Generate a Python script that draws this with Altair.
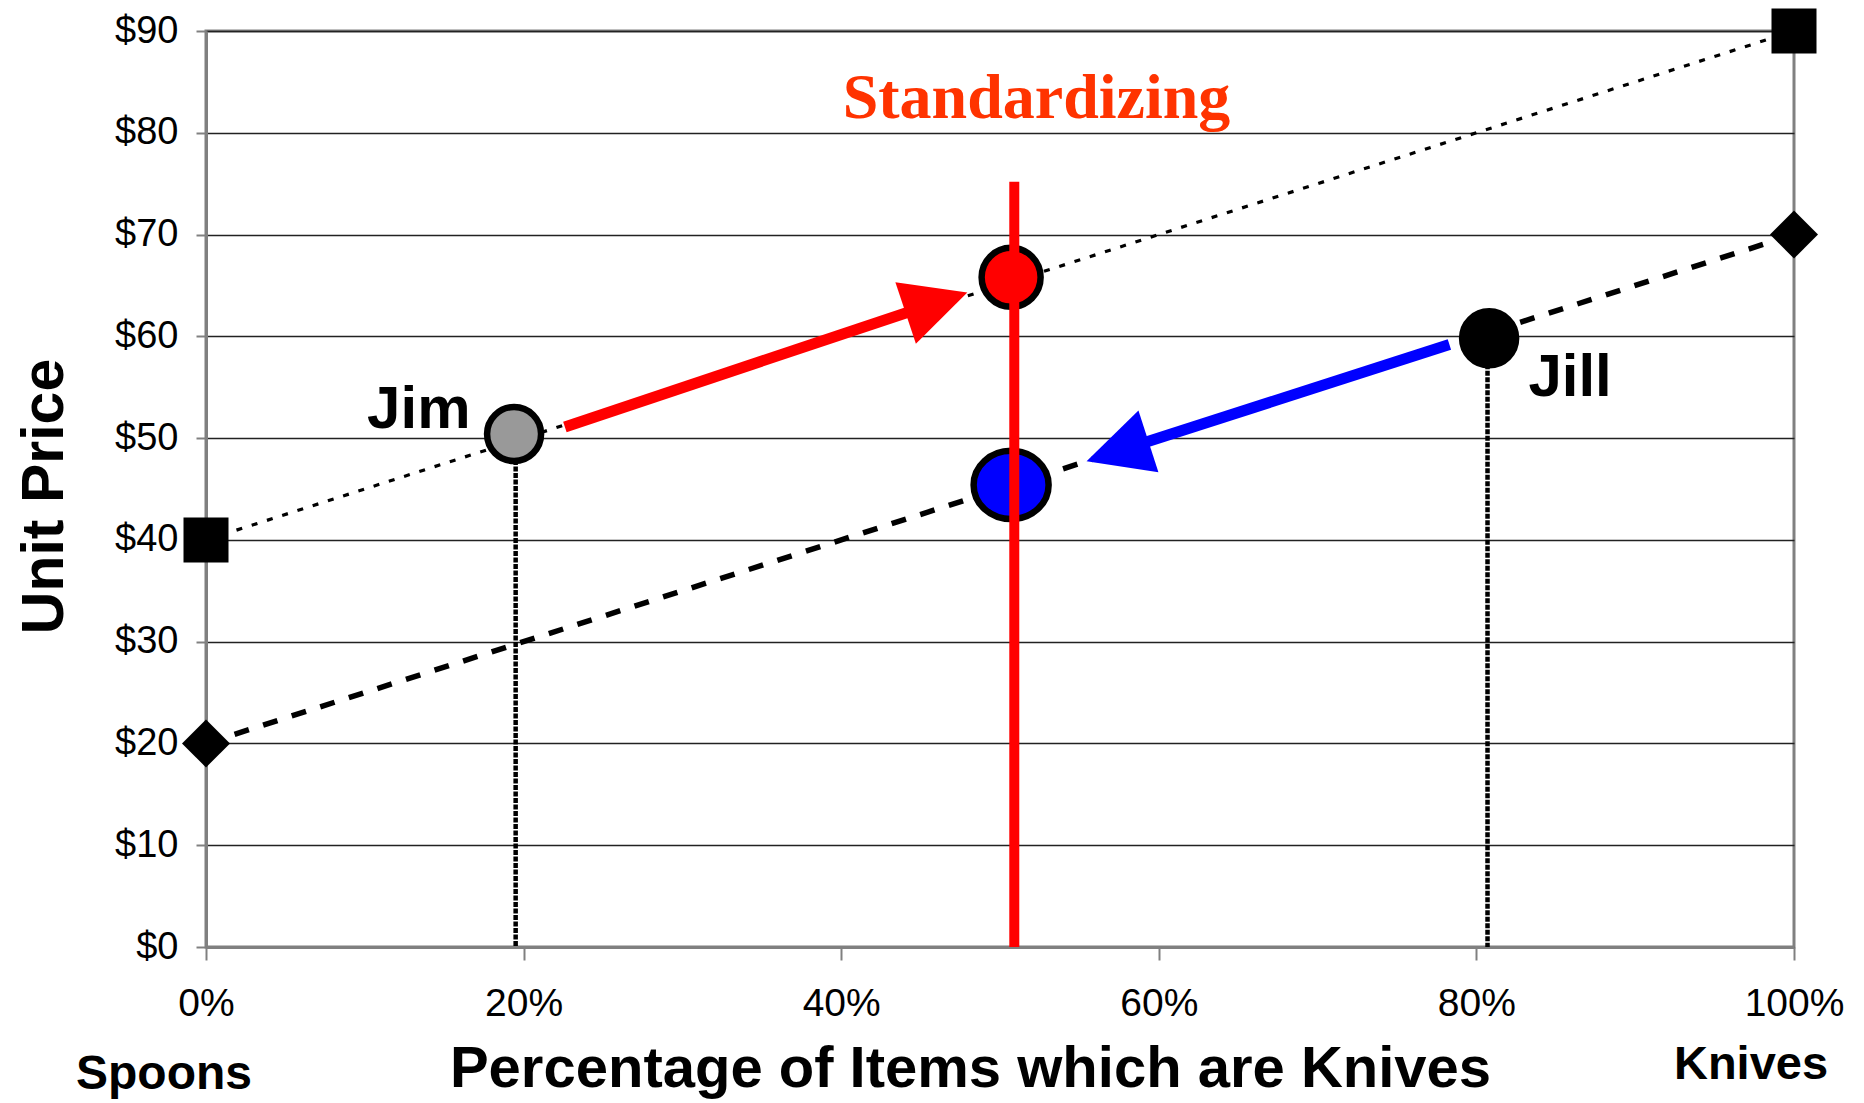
import altair as alt
import pandas as pd

# ---------------- data ----------------
line_x = [0, 100]
upper_y = [40, 90]      # square-ended dotted line
lower_y = [20, 70]      # diamond-ended dashed line

pt_names = ["Jim", "Jill", "Std high", "Std low"]
pt_x = [19.4, 80.8, 50.7, 50.7]
pt_y = [50.4, 59.8, 65.8, 45.4]
pt_fill = ["#999999", "#000000", "#FF0000", "#0000FF"]

drop_x = [19.5, 80.7]
drop_y = [50.4, 59.8]

std_x = [50.9]
std_top = [75.2]

arrow_x1 = [22.6, 78.3]
arrow_y1 = [51.1, 59.2]
arrow_x2 = [46.0, 57.4]
arrow_y2 = [63.3, 48.7]
arrow_angle = [341.6, 162.1]
arrow_color = ["#FF0000", "#0000FF"]

y_ticks = [0, 10, 20, 30, 40, 50, 60, 70, 80, 90]
x_ticks = [0, 20, 40, 60, 80, 100]

SANS = "Liberation Sans, Arial, sans-serif"
SERIF = "Liberation Serif, Times New Roman, serif"

# ---------------- shared encodings ----------------
X = alt.X("x:Q",
          scale=alt.Scale(domain=[0, 100], nice=False, zero=False),
          axis=alt.Axis(values=x_ticks, labelExpr="datum.value + '%'",
                        grid=False, tickSize=13, tickColor="#808080", tickWidth=2,
                        domainColor="#808080", domainWidth=3,
                        labelFont=SANS, labelFontSize=39, labelColor="black",
                        labelPadding=24, labelFlush=False,
                        title="Percentage of Items which are Knives",
                        titleFont=SANS, titleFontSize=58, titleFontWeight="bold",
                        titleColor="black", titleX=764, titleY=139,
                        titleAlign="center", titleBaseline="alphabetic"))
Y = alt.Y("y:Q",
          scale=alt.Scale(domain=[0, 90], nice=False),
          axis=alt.Axis(values=y_ticks, labelExpr="'$' + datum.value",
                        grid=True, gridColor="#222222", gridWidth=1.3,
                        tickSize=10, tickColor="#808080", tickWidth=2,
                        domainColor="#808080", domainWidth=3,
                        labelFont=SANS, labelFontSize=38, labelColor="black",
                        labelPadding=18, labelFlush=False,
                        title="Unit Price",
                        titleFont=SANS, titleFontSize=59, titleFontWeight="bold",
                        titleColor="black", titleAngle=270, titleX=-144, titleY=465,
                        titleAlign="center", titleBaseline="alphabetic"))

# ---------------- layers ----------------
upper = alt.Chart(pd.DataFrame({"x": line_x, "y": upper_y})).mark_line(
    color="black", strokeWidth=3.2, strokeDash=[6, 10]).encode(x=X, y=Y)
lower = alt.Chart(pd.DataFrame({"x": line_x, "y": lower_y})).mark_line(
    color="black", strokeWidth=5.5, strokeDash=[15, 15]).encode(x=X, y=Y)

drops = alt.Chart(pd.DataFrame({"x": drop_x, "y": drop_y, "y2": [0, 0]})).mark_rule(
    color="black", strokeWidth=4.5, strokeDash=[5, 1.5]).encode(x=X, y=Y, y2="y2:Q")

shafts = alt.Chart(pd.DataFrame({"x": arrow_x1, "y": arrow_y1, "x2": arrow_x2,
                                 "y2": arrow_y2, "c": arrow_color})).mark_rule(
    strokeWidth=11, strokeCap="butt").encode(
    x=X, y=Y, x2="x2:Q", y2="y2:Q", color=alt.Color("c:N", scale=None))

heads = alt.Chart(pd.DataFrame({"x": arrow_x2, "y": arrow_y2, "a": arrow_angle,
                                "c": arrow_color})).mark_point(
    shape="M1,0L-1,-1L-1,1Z", filled=True, opacity=1, size=4225, strokeWidth=0).encode(
    x=X, y=Y, angle=alt.Angle("a:Q", scale=None), color=alt.Color("c:N", scale=None))

squares = alt.Chart(pd.DataFrame({"x": line_x, "y": upper_y})).mark_point(
    shape="square", filled=True, opacity=1, size=2025, color="black").encode(x=X, y=Y)
diamonds = alt.Chart(pd.DataFrame({"x": line_x, "y": lower_y})).mark_point(
    shape="diamond", filled=True, opacity=1, size=2304, color="black").encode(x=X, y=Y)

ellipse = ("M-1,0C-1,-0.503,-0.5523,-0.91,0,-0.91C0.5523,-0.91,1,-0.503,1,0"
           "C1,0.503,0.5523,0.91,0,0.91C-0.5523,0.91,-1,0.503,-1,0Z")
pts = pd.DataFrame({"x": pt_x, "y": pt_y, "f": pt_fill, "name": pt_names,
                    "s": [2916, 2916, 3481, 5625],
                    "shape": ["circle", "circle", "circle", ellipse]})
circles = alt.Chart(pts).mark_point(filled=True, opacity=1, stroke="black",
                                    strokeWidth=6.5, strokeOpacity=1).encode(
    x=X, y=Y,
    fill=alt.Fill("f:N", scale=None),
    size=alt.Size("s:Q", scale=None),
    shape=alt.Shape("shape:N", scale=None))

std_line = alt.Chart(pd.DataFrame({"x": std_x, "y": std_top, "y2": [0]})).mark_rule(
    color="#FF0000", strokeWidth=10).encode(x=X, y=Y, y2="y2:Q")

std_text = alt.Chart(pd.DataFrame({"x": [52.3], "y": [81.5], "t": ["Standardizing"]})).mark_text(
    font=SERIF, fontSize=64, fontWeight="bold", color="#FF3300",
    align="center", baseline="alphabetic").encode(x=X, y=Y, text="t:N")

name_text = alt.Chart(pd.DataFrame({"x": [13.4, 85.9], "y": [51.0, 54.1],
                                    "t": ["Jim", "Jill"]})).mark_text(
    font=SANS, fontSize=60, fontWeight="bold", color="black",
    align="center", baseline="alphabetic").encode(x=X, y=Y, text="t:N")

spoons = alt.Chart(pd.DataFrame({"x": [0], "t": ["Spoons"]})).mark_text(
    font=SANS, fontSize=48, fontWeight="bold", color="black", dx=-42,
    align="center", baseline="alphabetic").encode(x=X, y=alt.value(1058), text="t:N")
knives = alt.Chart(pd.DataFrame({"x": [100], "t": ["Knives"]})).mark_text(
    font=SANS, fontSize=47, fontWeight="bold", color="black", dx=-43,
    align="center", baseline="alphabetic").encode(x=X, y=alt.value(1048), text="t:N")

chart = alt.layer(
    upper, lower, drops, shafts, heads, squares, diamonds, circles, std_line,
    std_text, name_text, spoons, knives
).properties(
    width=1588, height=916,
    autosize=alt.AutoSizeParams(type="none"),
    padding={"left": 198, "top": 23, "right": 60, "bottom": 154},
    background="white",
).configure_view(stroke="#808080", strokeWidth=3)

chart.save("out.html", embed_options={"renderer": "svg", "actions": False})
